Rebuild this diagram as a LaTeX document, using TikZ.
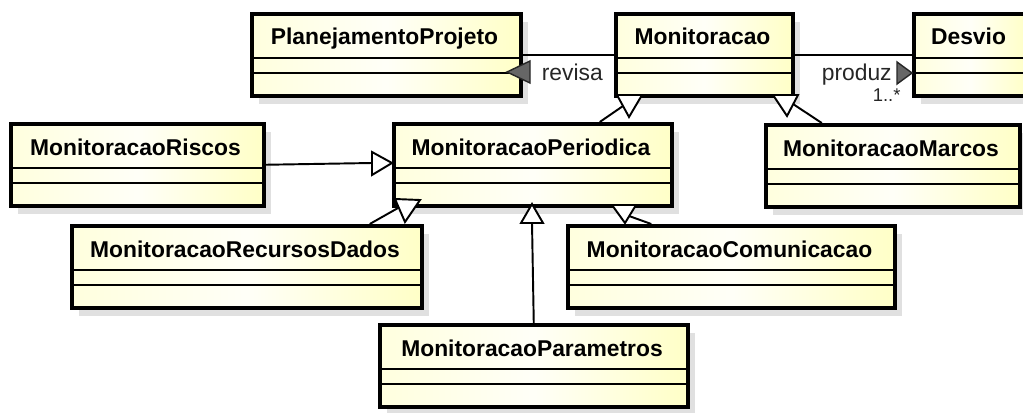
\documentclass[tikz,border=0pt]{standalone}
\usepackage{fontspec}
\setmainfont{Liberation Sans}
\usetikzlibrary{calc}

\begin{document}
\begin{tikzpicture}[x=0.02cm, y=-0.02cm, line width=1.1pt,
  classbox/.style={draw, line width=2pt, inner sep=0pt, anchor=north west,
    minimum height=82*0.02cm, left color=yellow!13, right color=yellow!22, middle color=yellow!3},
  boxshadow/.style={fill=black!12},
  classname/.style={anchor=base, font=\fontsize{13}{15}\selectfont\bfseries},
  divider/.style={line width=1pt},
  assoc/.style={anchor=base west, font=\fontsize{13}{15}\selectfont, text=black!85},
  mult/.style={anchor=base west, font=\fontsize{10.5}{12}\selectfont, text=black!85},
  dirmark/.style={fill=black!60, draw=black!85, line width=0.8pt},
  genhead/.style={draw, fill=white, line width=1.1pt, line join=miter}]
  \useasboundingbox (0,0) rectangle (1023,412);
  \clip (0,0) rectangle (1023,412);
  \foreach \nm/\x/\y/\w/\txt in {pp/250/12/269/PlanejamentoProjeto, mon/614/12/177/Monitoracao,
      desv/912/12/113/Desvio, ris/9/122/253/MonitoracaoRiscos, per/392/122/278/MonitoracaoPeriodica,
      marc/764/123/254/MonitoracaoMarcos, rec/70/224/350/MonitoracaoRecursosDados,
      com/566/224/327/MonitoracaoComunicacao, par/378/323/308/MonitoracaoParametros}{
    \fill[boxshadow] ({\x+9},{\y+10}) rectangle ++(\w,82);
    \node[classbox, minimum width=\w*0.02cm] (\nm) at (\x,\y) {};
    \node[classname] (\nm-t) at ({\x+\w/2},{\y+33}) {\txt};
    \foreach \d in {46,61}{\draw[divider] ($(\nm.north west)+(0,\d)$) -- ($(\nm.north east)+(0,\d)$);}
  }
  \draw (mon.west) -- (pp.east);
  \draw (mon.east) -- (desv.west);
  \node[assoc] (revisa) at (535,81) {revisa};
  \filldraw[dirmark] (507,72) -- (530,61) -- (530,83) -- cycle;
  \node[assoc] (produz) at (815,81) {produz};
  \node[mult] (mult) at (866,101) {1..*};
  \filldraw[dirmark] (912,73) -- (897,62) -- (897,84) -- cycle;
  \coordinate (g1) at (623,106);
  \coordinate (g2) at (793,104);
  \coordinate (g3) at (372,163);
  \coordinate (g4) at (398,208);
  \coordinate (g5) at (532,223);
  \coordinate (g6) at (629,216);
  \draw ($(per.north)+(67,0)$) -- (g1);
  \draw ($(marc.north)+(-71,0)$) -- (g2);
  \draw (ris.east) -- (g3);
  \draw ($(rec.north)+(123,0)$) -- (g4);
  \draw (par.north) -- (g5);
  \draw ($(com.north)+(-80,0)$) -- (g6);
  \draw[genhead] (617,95) -- (642,95) -- (629,117) -- cycle;
  \draw[genhead] (773,95) -- (798,95) -- (787,116) -- cycle;
  \draw[genhead] (372,152) -- (372,175) -- (392,163) -- cycle;
  \draw[genhead] (395,199) -- (420,200) -- (405,222) -- cycle;
  \draw[genhead] (532,204) -- (521,223) -- (543,223) -- cycle;
  \draw[genhead] (612,205) -- (636,205) -- (625,223) -- cycle;
\end{tikzpicture}
\end{document}
